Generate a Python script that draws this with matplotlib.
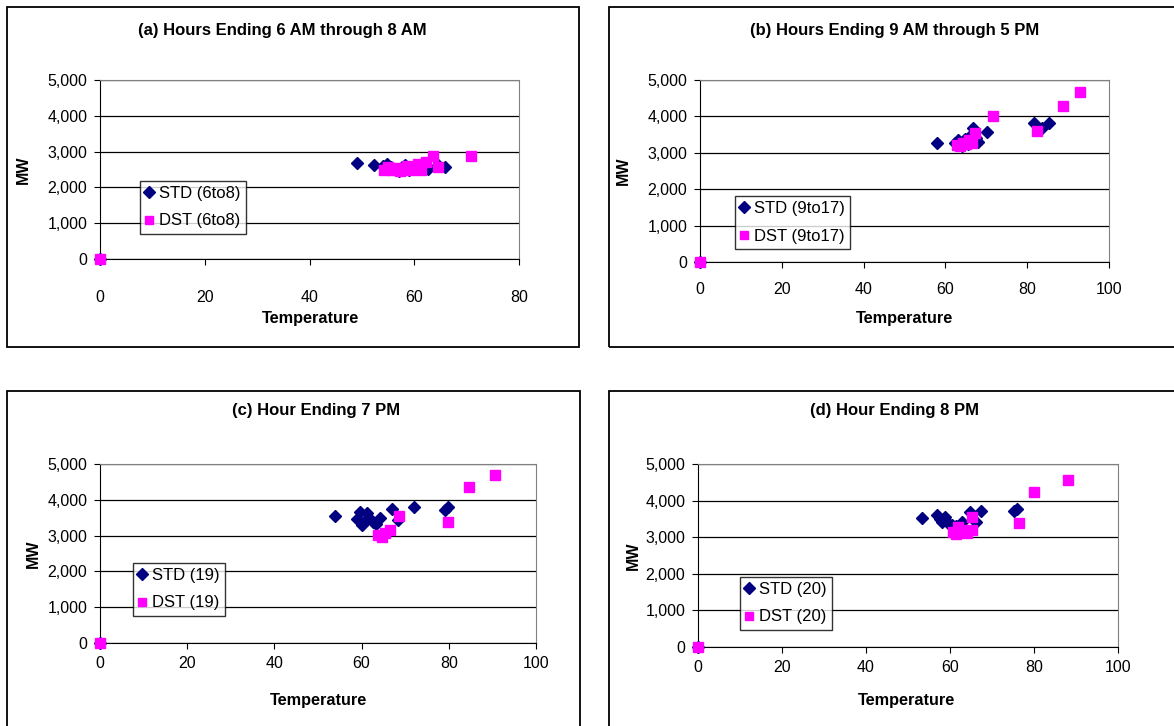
import numpy as np
import matplotlib
matplotlib.use("Agg")
from matplotlib import pyplot as plt
from matplotlib.patches import Rectangle
from matplotlib.ticker import FuncFormatter

plt.rcParams['font.family'] = ['Liberation Sans', 'DejaVu Sans']

# ---- data ------------------------------------------------------------------
# (a) hours ending 6 AM through 8 AM
a_std_t = [0, 49.0, 52.4, 54.0, 54.8, 55.5, 56.3, 57.0, 57.6, 58.3, 59.0, 59.8, 60.5, 61.5, 62.7, 64.5, 65.8]
a_std_mw = [0, 2690, 2625, 2600, 2640, 2560, 2520, 2450, 2580, 2630, 2500, 2560, 2540, 2580, 2520, 2620, 2560]
a_dst_t = [0, 54.3, 55.0, 55.8, 56.5, 57.2, 58.0, 58.6, 59.3, 60.0, 60.8, 61.3, 62.3, 63.6, 64.5, 70.9]
a_dst_mw = [0, 2500, 2560, 2480, 2530, 2470, 2550, 2600, 2500, 2560, 2640, 2500, 2700, 2877, 2560, 2886]

# (b) hours ending 9 AM through 5 PM
b_std_t = [0, 58.0, 62.3, 63.0, 64.0, 64.8, 65.5, 66.0, 66.8, 67.5, 68.0, 70.1, 81.7, 83.5, 85.4]
b_std_mw = [0, 3261, 3260, 3340, 3200, 3380, 3250, 3450, 3690, 3400, 3300, 3580, 3810, 3690, 3810]
b_dst_t = [0, 62.8, 63.5, 64.3, 65.0, 65.7, 66.4, 67.2, 71.7, 82.3, 88.7, 92.9]
b_dst_mw = [0, 3214, 3180, 3280, 3230, 3350, 3261, 3535, 4011, 3607, 4286, 4662]

# (c) hour ending 7 PM
c_std_t = [0, 54.0, 59.0, 59.6, 60.0, 60.4, 61.2, 61.8, 62.5, 63.2, 64.2, 66.9, 68.4, 72.1, 79.1, 79.9]
c_std_mw = [0, 3547, 3450, 3668, 3300, 3343, 3622, 3500, 3380, 3320, 3483, 3734, 3436, 3790, 3715, 3807]
c_dst_t = [0, 63.8, 64.6, 65.4, 66.5, 68.6, 79.9, 84.6, 90.6]
c_dst_mw = [0, 3017, 2960, 3064, 3156, 3547, 3388, 4349, 4693]

# (d) hour ending 8 PM
d_std_t = [0, 53.3, 56.8, 57.5, 58.0, 58.8, 59.6, 60.5, 61.5, 62.8, 64.8, 66.3, 67.4, 75.3, 75.9]
d_std_mw = [0, 3516, 3607, 3500, 3424, 3550, 3380, 3320, 3300, 3420, 3697, 3424, 3724, 3724, 3762]
d_dst_t = [0, 60.8, 61.5, 62.0, 63.0, 64.0, 65.2, 65.2, 76.4, 80.1, 88.2]
d_dst_mw = [0, 3150, 3080, 3287, 3200, 3120, 3197, 3560, 3380, 4227, 4563]

titles = ["(a) Hours Ending 6 AM through 8 AM", "(b) Hours Ending 9 AM through 5 PM",
          "(c) Hour Ending 7 PM", "(d) Hour Ending 8 PM"]
legend_tags = ["6to8", "9to17", "19", "20"]
x_max = [80, 100, 100, 100]
y_ticks = [0, 1000, 2000, 3000, 4000, 5000]

# ---- layout in pixels (figure is 1174 x 726) -------------------------------
W, H = 1174, 726
# box (left, top, right, bottom), plot (left, top, right, bottom), legend (left, top)
boxes = [(7, 7, 579, 347), (609, 7, 1180, 347), (7, 391, 580, 735), (609, 391, 1180, 735)]
plots = [(100, 80, 519, 259), (700, 80, 1109, 262), (100, 464, 536, 643), (698, 464, 1118, 647)]
legends = [(140, 181), (735, 196), (133, 563), (740, 577)]
title_xy = [(282, 30), (895, 30), (316, 411), (895, 411)]
xlab_xy = [(310, 318), (905, 318), (318, 700), (907, 701)]
ylab_x = [23, 623, 33, 633]
xtick_pad = [18.5, 10.5, 5, 5]

STD_C = '#000080'
DST_C = '#FF00FF'

fig = plt.figure(figsize=(W / 100, H / 100), dpi=100)
fig.patch.set_facecolor('w')

data = [(a_std_t, a_std_mw, a_dst_t, a_dst_mw),
        (b_std_t, b_std_mw, b_dst_t, b_dst_mw),
        (c_std_t, c_std_mw, c_dst_t, c_dst_mw),
        (d_std_t, d_std_mw, d_dst_t, d_dst_mw)]

fmt = FuncFormatter(lambda v, p: f"{v:,.0f}")

for k in range(4):
    bl, bt, br, bb = boxes[k]
    fig.patches.append(Rectangle((bl / W, 1 - bb / H), (br - bl) / W, (bb - bt) / H,
                                 transform=fig.transFigure, fill=False,
                                 edgecolor='k', linewidth=1.3))
    pl, pt, pr, pb = plots[k]
    ax = fig.add_axes([pl / W, 1 - pb / H, (pr - pl) / W, (pb - pt) / H])
    st, sm, dt, dm = data[k]
    ax.plot(st, sm, 'D', color=STD_C, markersize=6.5, linestyle='none',
            label=f"STD ({legend_tags[k]})", clip_on=False, zorder=3)
    ax.plot(dt, dm, 's', color=DST_C, markersize=7, linestyle='none',
            label=f"DST ({legend_tags[k]})", clip_on=False, zorder=4)
    ax.set_xlim(0, x_max[k])
    ax.set_ylim(0, 5000)
    ax.set_xticks(np.arange(0, x_max[k] + 1, 20))
    ax.set_yticks(y_ticks)
    ax.yaxis.set_major_formatter(fmt)
    ax.grid(axis='y', color='k', linewidth=0.9)
    ax.set_axisbelow(True)
    for s in ['top', 'right']:
        ax.spines[s].set_color('#808080')
    for s in ['left', 'bottom']:
        ax.spines[s].set_color('k')
    ax.tick_params(direction='out', length=4, width=0.8, labelsize=11.5, pad=5)
    ax.tick_params(axis='x', pad=xtick_pad[k])

    tx, ty = title_xy[k]
    fig.text(tx / W, 1 - ty / H, titles[k], ha='center', va='center',
             fontsize=12, fontweight='bold')
    lx, ly = xlab_xy[k]
    fig.text(lx / W, 1 - ly / H, "Temperature", ha='center', va='center',
             fontsize=11.7, fontweight='bold')
    fig.text(ylab_x[k] / W, 1 - (pt + pb) / 2 / H, "MW", ha='center', va='center',
             rotation=90, fontsize=11.5, fontweight='bold')

    gx, gy = legends[k]
    leg = ax.legend(loc='upper left', bbox_to_anchor=(gx / W, 1 - gy / H),
                    bbox_transform=fig.transFigure, fontsize=12, frameon=True,
                    fancybox=False, edgecolor='k', handlelength=0.5,
                    handletextpad=0.35, borderpad=0.3, labelspacing=0.75,
                    borderaxespad=0, markerscale=0.9)
    leg.get_frame().set_linewidth(1.0)

fig.savefig("out.png", dpi=100)
